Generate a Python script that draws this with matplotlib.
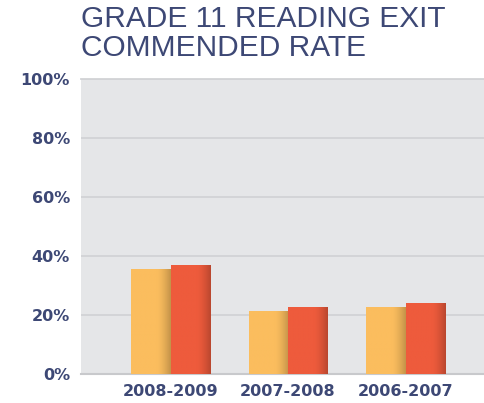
import matplotlib.pyplot as plt
import numpy as np
from matplotlib.colors import to_rgb

years = ['2008-2009', '2007-2008', '2006-2007']
district = [35.5, 21.2, 22.6]
state = [37.0, 22.7, 24.0]
yticks = [0, 20, 40, 60, 80, 100]

navy = '#3d4875'
yellow = '#fbbd5e'
red = '#ee5b3c'

fig = plt.figure(figsize=(4.85, 4.03), dpi=100)
ax = fig.add_axes([0.167, 0.072, 0.831, 0.733])
ax.set_facecolor('#e5e6e8')

x = np.arange(len(years))
w = 0.336


def shaded(bars, color):
    # darken the right part of each bar to give it a rounded look
    base = np.array(to_rgb(color))
    t = np.linspace(0, 1, 64)
    shade = np.clip((t - 0.65) / 0.35, 0, 1) ** 1.5
    rgb = base[None, :] * (1 - 0.22 * shade[:, None])
    img = rgb[None, :, :]
    for b in bars:
        x0, y0 = b.get_x(), b.get_y()
        im = ax.imshow(img, extent=(x0, x0 + b.get_width(), y0, y0 + b.get_height()),
                       aspect='auto', zorder=3, interpolation='bilinear')
        im.set_clip_path(b)


b1 = ax.bar(x - w / 2, district, w, color=yellow, zorder=3)
b2 = ax.bar(x + w / 2, state, w, color=red, zorder=3)
shaded(b1, yellow)
shaded(b2, red)

ax.set_xlim(-0.762, 2.668)
ax.set_ylim(0, 100)
ax.set_yticks(yticks)
ax.set_yticklabels([f'{v}%' for v in yticks])
ax.set_xticks(x)
ax.set_xticklabels(years)
for lbl in ax.get_xticklabels() + ax.get_yticklabels():
    lbl.set_fontweight('bold')
    lbl.set_fontsize(11.5)
    lbl.set_color(navy)
ax.tick_params(length=0)
ax.tick_params(axis='y', pad=8)
ax.tick_params(axis='x', pad=7)

ax.grid(axis='y', color='#d2d3d6', linewidth=1.3, zorder=1)
ax.set_axisbelow(True)
for s in ['left', 'right']:
    ax.spines[s].set_visible(False)
ax.spines['bottom'].set_color('#c8c9cc')
ax.spines['bottom'].set_linewidth(1.5)
ax.spines['top'].set_color('#d2d3d6')
ax.spines['top'].set_linewidth(1.3)

fig.text(0.166, 0.987, 'GRADE 11 READING EXIT\nCOMMENDED RATE', ha='left', va='top',
         fontsize=21.5, color=navy, family='Liberation Sans', linespacing=1.02)

fig.savefig('out.png', dpi=100)
